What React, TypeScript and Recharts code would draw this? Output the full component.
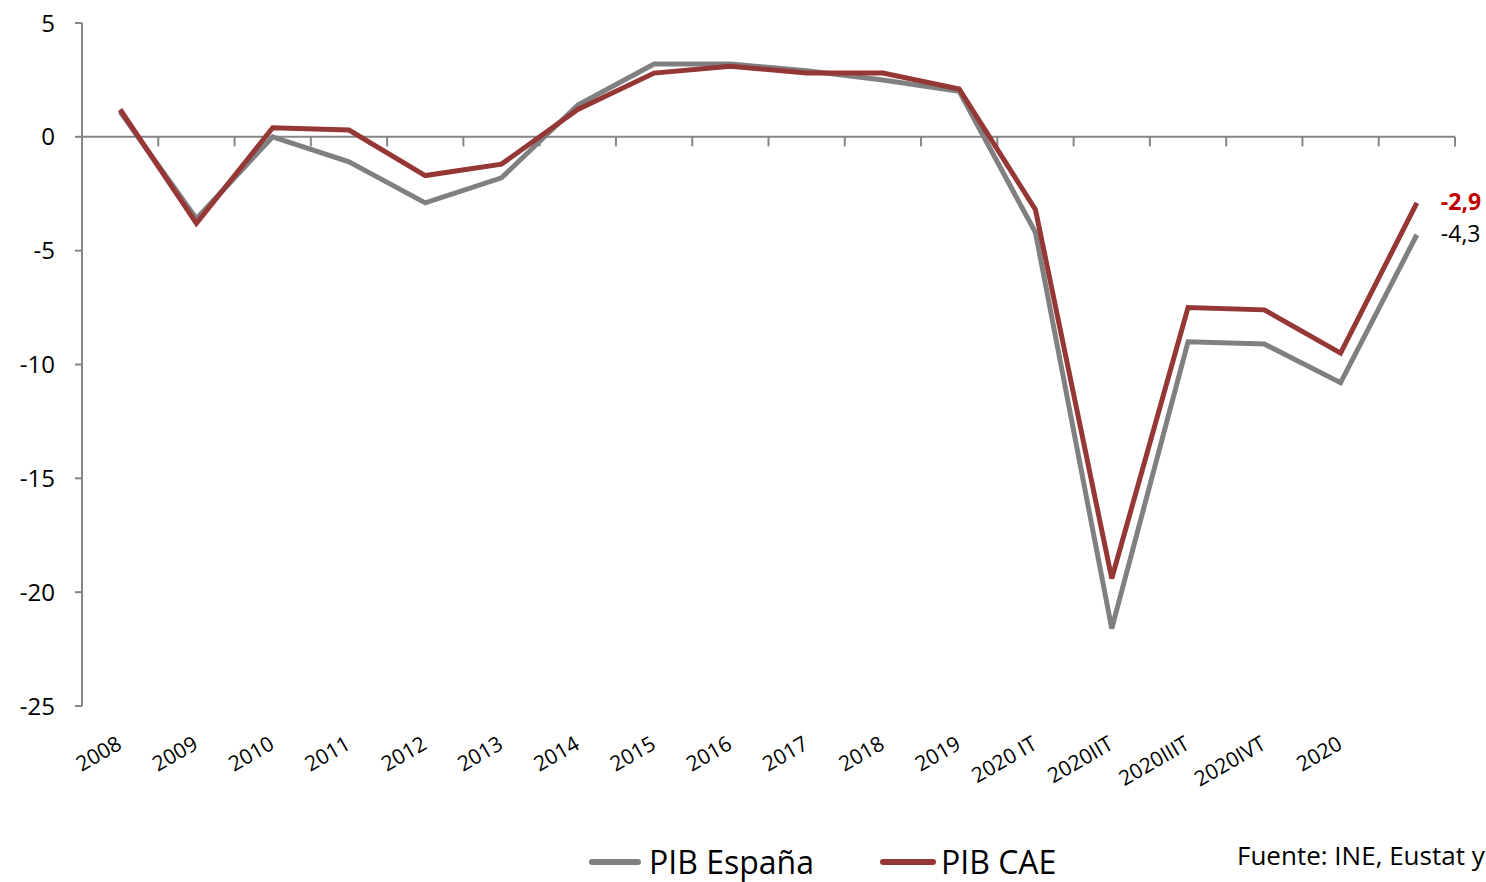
import { LineChart, Line, XAxis, YAxis, ReferenceLine, Legend } from "recharts";

const CATEGORIES = [
  "2008", "2009", "2010", "2011", "2012", "2013", "2014", "2015", "2016",
  "2017", "2018", "2019", "2020 IT", "2020IIT", "2020IIIT", "2020IVT", "2020", "",
];
const PIB_ESPANA = [1.1, -3.6, 0.0, -1.1, -2.9, -1.8, 1.4, 3.2, 3.2, 2.9, 2.5, 2.0, -4.2, -21.6, -9.0, -9.1, -10.8, -4.3];
const PIB_CAE = [1.2, -3.8, 0.4, 0.3, -1.7, -1.2, 1.2, 2.8, 3.1, 2.8, 2.8, 2.1, -3.2, -19.4, -7.5, -7.6, -9.5, -2.9];
const Y_TICKS = [5, 0, -5, -10, -15, -20, -25];

const GREY = "#808080";
const RED = "#953735";
const AXIS = "#868686";
const FONT = "'Open Sans', sans-serif";

// points sit in the middle of each category slot, like Excel
const data = CATEGORIES.map((label, i) => ({
  pos: i + 0.5,
  label,
  espana: PIB_ESPANA[i],
  cae: PIB_CAE[i],
}));
const boundaries = CATEGORIES.map((_, i) => i + 1);
const last = CATEGORIES.length - 1;

const CategoryTick = ({ x, y, payload }: any) => {
  const label = CATEGORIES[Math.floor(payload.value)];
  const ax = x + 3;
  const ay = y + 34;
  return (
    <text
      x={ax}
      y={ay}
      textAnchor="end"
      transform={`rotate(-30, ${ax}, ${ay})`}
      fontSize={21}
      fontFamily={FONT}
      fill="#000"
    >
      {label}
    </text>
  );
};

const endLabel = (color: string, bold: boolean) => (props: any) => {
  if (props.index !== last) return null;
  return (
    <text
      x={props.x + 24}
      y={props.y + 1}
      dominantBaseline="middle"
      fontSize={23}
      fontWeight={bold ? 700 : 400}
      fontFamily={FONT}
      fill={color}
    >
      {String(props.value).replace(".", ",")}
    </text>
  );
};

const LegendContent = () => (
  <div style={{ position: "relative", height: 42, fontFamily: FONT }}>
    <svg width={1486} height={42} style={{ position: "absolute", left: 0, top: 0, overflow: "visible" }}>
      <line x1={592} x2={638} y1={22} y2={22} stroke={GREY} strokeWidth={6} strokeLinecap="round" />
      <text x={649} y={25} dominantBaseline="middle" fontSize={32} fill="#000">PIB España</text>
      <line x1={883} x2={933} y1={22} y2={22} stroke={RED} strokeWidth={6} strokeLinecap="round" />
      <text x={941} y={25} dominantBaseline="middle" fontSize={32} fill="#000">PIB CAE</text>
      <text x={1237} y={18} dominantBaseline="middle" fontSize={26} fill="#000">Fuente: INE, Eustat y</text>
    </svg>
  </div>
);

export default function App() {
  return (
    <div style={{ position: "absolute", left: 0, top: 0, width: 1486, height: 882, overflow: "hidden", background: "#fff" }}>
      <LineChart
        width={1486}
        height={882}
        data={data}
        margin={{ top: 23, right: 31, bottom: 0, left: 0 }}
      >
        <XAxis
          dataKey="pos"
          type="number"
          domain={[0, CATEGORIES.length]}
          ticks={data.map((d) => d.pos)}
          interval={0}
          tick={<CategoryTick />}
          axisLine={false}
          tickLine={false}
          height={134}
        />
        <YAxis
          type="number"
          domain={[-25, 5]}
          ticks={Y_TICKS}
          interval={0}
          width={82}
          axisLine={{ stroke: AXIS, strokeWidth: 2 }}
          tickLine={{ stroke: AXIS, strokeWidth: 2 }}
          tickSize={7}
          tickMargin={20}
          tick={{ fill: "#000", fontSize: 24, fontFamily: FONT }}
        />
        <ReferenceLine y={0} stroke={AXIS} strokeWidth={2} />
        {boundaries.map((b) => (
          <ReferenceLine
            key={b}
            segment={[{ x: b, y: 0 }, { x: b, y: -0.42 }]}
            stroke={AXIS}
            strokeWidth={2}
          />
        ))}
        <Line
          type="linear"
          dataKey="espana"
          name="PIB España"
          stroke={GREY}
          strokeWidth={5}
          dot={false}
          isAnimationActive={false}
          label={endLabel("#000", false)}
        />
        <Line
          type="linear"
          dataKey="cae"
          name="PIB CAE"
          stroke={RED}
          strokeWidth={5}
          dot={false}
          isAnimationActive={false}
          label={endLabel("#c00000", true)}
        />
        <Legend verticalAlign="bottom" content={<LegendContent />} />
      </LineChart>
    </div>
  );
}
